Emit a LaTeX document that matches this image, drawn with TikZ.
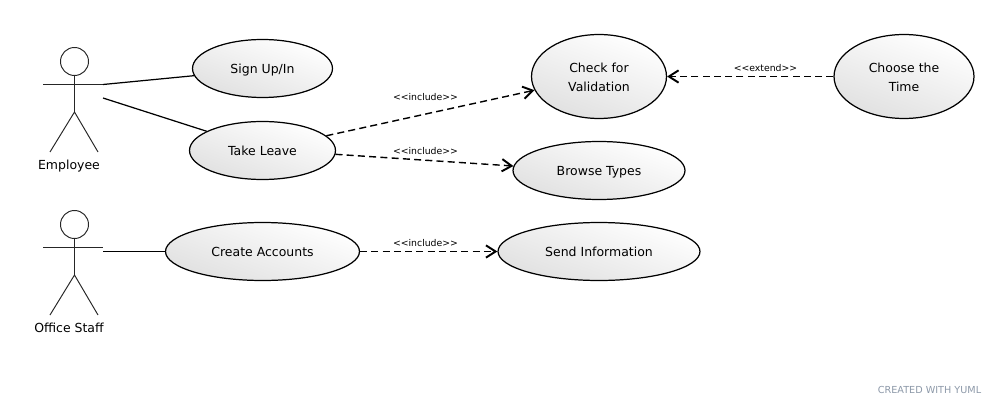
\documentclass[tikz,border=0pt]{standalone}
\usepackage{fontspec}
\setmainfont{DejaVu Sans}
\usetikzlibrary{arrows.meta,shapes.geometric}
\begin{document}
\begin{tikzpicture}[x=0.02cm,y=-0.02cm]
      \colorlet{shadecolor}{gray!24}
      \definecolor{notecolor}{HTML}{8C98A8}
      \tikzset{usecase/.style={ellipse,draw=black,line width=0.7pt,inner sep=0pt,
          top color=white,bottom color=shadecolor,shading angle=-20,align=center,
          text height=5.7pt,text depth=0pt,font=\fontsize{7.1}{10.8}\selectfont}}
      \tikzset{twolines/.style={text height=17pt}}
      \tikzset{limb/.style={draw=black!85,line width=0.55pt}}
      \tikzset{assoc/.style={draw=black,line width=0.7pt}}
      \tikzset{depend/.style={draw=black,line width=0.8pt,dash pattern=on 4pt off 2.4pt,
          -{Straight Barb[length=5.5pt,width=7pt,line width=1.1pt]}}}
      \tikzset{stereo/.style={inner sep=0pt,text height=4pt,text depth=0pt,font=\fontsize{5.3}{6}\selectfont}}
      \tikzset{actorname/.style={inner sep=0pt,text height=5.7pt,text depth=0pt,font=\fontsize{7.1}{9}\selectfont}}

      \useasboundingbox (0,0) rectangle (999,405);

      % actors
      \foreach \who/\y/\what in {employee/0/Employee,staff/163/Office Staff} {
        \draw[limb] (74.5,61.5+\y) circle[radius=14];
        \draw[limb] (74.5,75.5+\y) -- (74.5,112+\y);
        \draw[limb] (43,84.5+\y) -- (103,84.5+\y);
        \draw[limb] (50,152+\y) -- (74.5,112+\y) -- (98,152+\y);
        \node[actorname] (\who) at (69,164.5+\y) {\what};
      }
      \coordinate (employeehand) at (103,84.5);
      \coordinate (employeeside) at (103,98);
      \coordinate (staffside) at (103,251.5);

      % use cases
      \node[usecase,minimum width=2.8cm,minimum height=1.16cm] (signup) at (262.5,68.5) {Sign Up/In};
      \node[usecase,minimum width=2.92cm,minimum height=1.16cm] (leave) at (262.5,150.5) {Take Leave};
      \node[usecase,twolines,minimum width=2.7cm,minimum height=1.68cm] (check) at (599,76.5) {Check for\\Validation};
      \node[usecase,twolines,minimum width=2.8cm,minimum height=1.68cm] (time) at (904,76.5) {Choose the\\Time};
      \node[usecase,minimum width=3.44cm,minimum height=1.16cm] (browse) at (599,170.5) {Browse Types};
      \node[usecase,minimum width=3.88cm,minimum height=1.16cm] (create) at (262.5,251.5) {Create Accounts};
      \node[usecase,minimum width=4.04cm,minimum height=1.16cm] (send) at (599,251.5) {Send Information};

      % connectors
      \draw[assoc] (employeehand) -- (signup.186);
      \draw[assoc] (employeeside) -- (leave.161);
      \draw[assoc] (staffside) -- (create);
      \draw[depend] (leave.13) -- (check.192);
      \draw[depend] (leave.-3) -- (browse.177);
      \draw[depend] (create) -- (send);
      \draw[depend] (time) -- (check);

      % labels
      \node[stereo] (inc1) at (425.5,97) {<{}<include>{}>};
      \node[stereo] (inc2) at (425.5,151) {<{}<include>{}>};
      \node[stereo] (inc3) at (425.5,243) {<{}<include>{}>};
      \node[stereo] (ext1) at (765.5,68) {<{}<extend>{}>};
      \node[inner sep=0pt,text=notecolor,font=\fontsize{5.5}{6}\selectfont] (stamp) at (929.5,390) {CREATED WITH YUML};
\end{tikzpicture}
\end{document}
